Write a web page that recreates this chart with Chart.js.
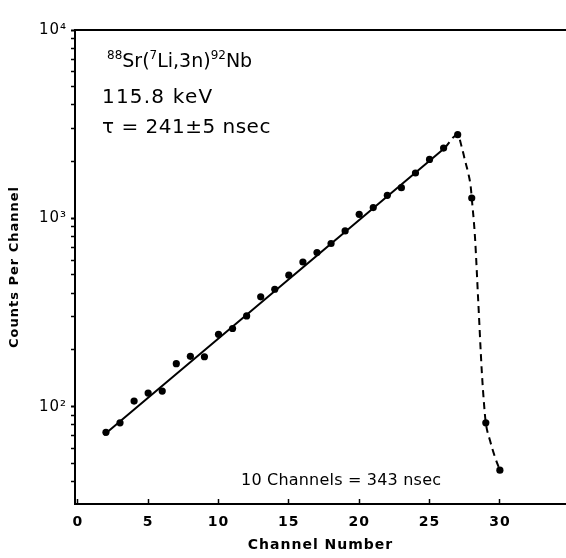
<!DOCTYPE html>
<html><head><meta charset="utf-8">
<script src="https://cdn.jsdelivr.net/npm/chart.js@4"></script>
<style>html,body{margin:0;padding:0;background:#fff}canvas{display:block}</style>
</head><body>
<canvas id="c" width="566" height="558"></canvas>
<script>
// ---- data ----
const channels = [2,3,4,5,6,7,8,9,10,11,12,13,14,15,16,17,18,19,20,21,22,23,24,25,26,27,28,29,30];
const counts   = [73,82,107,118,121,169,185,184,242,260,303,383,420,499,586,658,735,857,1050,1140,1325,1455,1740,2055,2360,2780,1282,82,46];
// least-squares decay line (solid), end points
const fitChannels = [1.85, 26.1];
const fitCounts   = [70.6, 2371];
// dashed hand-drawn curve through the falling edge
const tailChannels = [26.1, 27.0, 27.29, 27.52, 27.76, 27.93, 28.0, 28.23, 28.47, 28.71, 28.87, 29.0, 29.3, 29.65, 30.0];
const tailCounts   = [2371, 2780, 2388, 2032, 1726, 1466, 1282, 796, 353, 156, 104, 82, 66, 54, 46];
// axes
const xTickValues = [0,5,10,15,20,25,30];
const yTickValues = [40,50,60,70,80,90,100,200,300,400,500,600,700,800,900,1000,2000,3000,4000,5000,6000,7000,8000,9000,10000];
const yMajorLabels = {100:'10\u00B2', 1000:'10\u00B3', 10000:'10\u2074'};
const xTitle = 'Channel Number';
const yTitle = 'Counts Per Channel';
const reactionRuns = [['88',1],['Sr(',0],['7',1],['Li,3n)',0],['92',1],['Nb',0]];
const energyText = '115.8 keV';
const lifetimeText = '\u03C4 = 241\u00B15 nsec';
const calibText = '10 Channels = 343 nsec';

const FONT = '"DejaVu Sans", sans-serif';
const pts = (xs, ys) => xs.map((x, i) => ({x, y: ys[i]}));

const spacingPlugin = {
  id: 'spacing',
  beforeDraw(chart) { chart.ctx.letterSpacing = '1px'; },
  afterDraw(chart) { chart.ctx.letterSpacing = '0px'; }
};

const textPlugin = {
  id: 'annot',
  afterDraw(chart) {
    const ctx = chart.ctx;
    ctx.save();
    ctx.fillStyle = '#000';
    ctx.textBaseline = 'alphabetic';
    ctx.textAlign = 'left';
    ctx.letterSpacing = '0px';
    let x = 107;
    const base = 67;
    for (const [t, sup] of reactionRuns) {
      ctx.font = (sup ? '12px ' : '19px ') + FONT;
      ctx.fillText(t, x, sup ? base - 8 : base);
      x += ctx.measureText(t).width;
    }
    ctx.font = '20px ' + FONT;
    ctx.letterSpacing = '1.2px';
    ctx.fillText(energyText, 102, 103);
    ctx.letterSpacing = '0.5px';
    ctx.fillText(lifetimeText, 102, 133);
    ctx.font = '16px ' + FONT;
    ctx.letterSpacing = '0.2px';
    ctx.fillText(calibText, 241, 485);
    ctx.restore();
  }
};

const noSidePad = s => { s.paddingLeft = 0; s.paddingRight = 0; };

new Chart(document.getElementById('c'), {
  type: 'scatter',
  data: {
    datasets: [
      {
        label: 'counts',
        data: pts(channels, counts),
        pointRadius: 3.6,
        pointBackgroundColor: '#000',
        pointBorderColor: '#000',
        pointBorderWidth: 0,
        showLine: false,
        order: 0
      },
      {
        label: 'fit',
        data: pts(fitChannels, fitCounts),
        showLine: true,
        borderColor: '#000',
        borderWidth: 2,
        pointRadius: 0,
        order: 1
      },
      {
        label: 'tail',
        data: pts(tailChannels, tailCounts),
        showLine: true,
        borderColor: '#000',
        borderWidth: 2,
        borderDash: [7, 5],
        pointRadius: 0,
        cubicInterpolationMode: 'monotone',
        order: 2
      }
    ]
  },
  options: {
    responsive: false,
    animation: false,
    devicePixelRatio: 1,
    layout: {autoPadding: false, padding: {top: 30, left: 0, right: 0, bottom: 0}},
    plugins: {legend: {display: false}, tooltip: {enabled: false}},
    scales: {
      x: {
        type: 'linear',
        position: 'bottom',
        min: -0.2,
        max: 34.7,
        afterBuildTicks: s => { s.ticks = xTickValues.map(v => ({value: v})); },
        afterFit: s => { s.height = 54; noSidePad(s); },
        grid: {display: true, drawOnChartArea: false, drawTicks: true, tickLength: -5, tickWidth: 1.5, tickColor: '#000'},
        border: {display: true, color: '#000', width: 2},
        ticks: {autoSkip: false, maxRotation: 0, padding: 15, color: '#000', font: {family: FONT, size: 14, weight: 'bold'}, callback: v => String(v)},
        title: {display: true, text: xTitle, color: '#000', font: {family: FONT, size: 14, weight: 'bold'}, padding: {top: 0, bottom: 4}}
      },
      xTop: {
        type: 'linear',
        position: 'top',
        min: -0.2,
        max: 34.7,
        afterFit: s => { s.height = 0; noSidePad(s); },
        grid: {display: false, drawTicks: false},
        border: {display: true, color: '#000', width: 2},
        ticks: {display: false}
      },
      y: {
        type: 'logarithmic',
        position: 'left',
        min: 30.4,
        max: 10000,
        afterBuildTicks: s => { s.ticks = yTickValues.map(v => ({value: v, major: !!yMajorLabels[v]})); },
        afterFit: s => { s.width = 75; },
        grid: {display: true, drawOnChartArea: false, drawTicks: true, tickLength: 4, tickColor: '#000',
               tickWidth: c => (c.tick && yMajorLabels[c.tick.value]) ? 2 : 1.5},
        border: {display: true, color: '#000', width: 2},
        ticks: {autoSkip: false, padding: 4, color: '#000', font: {family: FONT, size: 15}, callback: v => yMajorLabels[v] || ''},
        title: {display: true, text: yTitle, color: '#000', font: {family: FONT, size: 13, weight: 'bold'}, padding: {top: 7, bottom: 0}}
      }
    }
  },
  plugins: [spacingPlugin, textPlugin]
});
</script>
</body></html>
